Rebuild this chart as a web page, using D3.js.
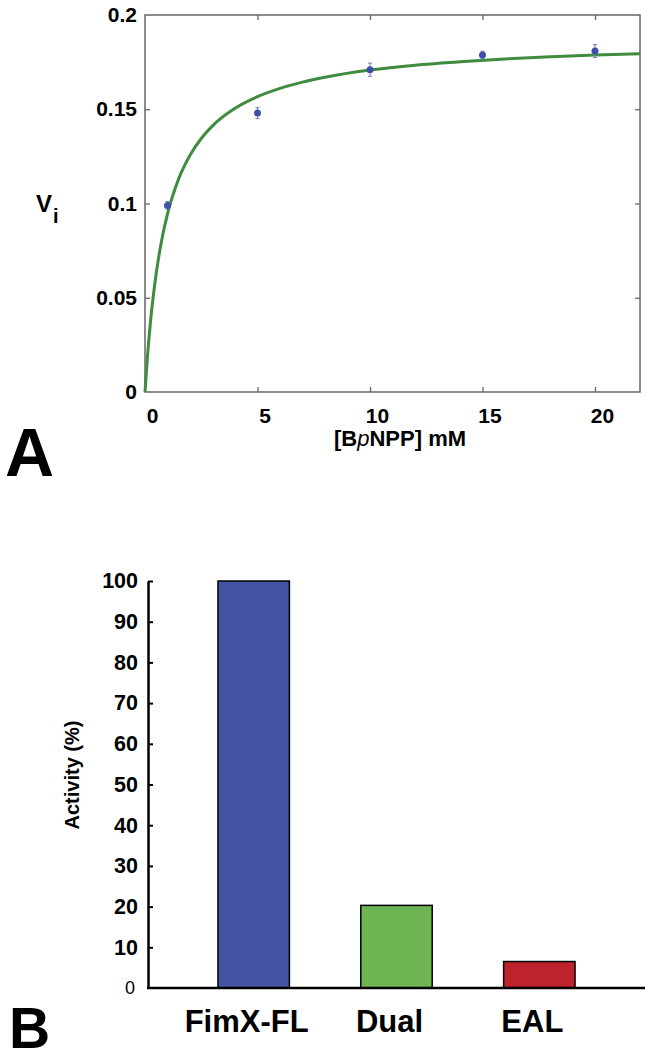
<!DOCTYPE html>
<html>
<head>
<meta charset="utf-8">
<script src="https://cdn.jsdelivr.net/npm/d3@7"></script>
<style>
  body { margin: 0; background: #fff; }
  svg text { font-family: "Liberation Sans", Arial, sans-serif; font-weight: bold; fill: #000; }
</style>
</head>
<body>
<svg id="fig" width="647" height="1059"></svg>
<script>
// panel A: substrate (mM), initial velocity, error
var subst = [1, 5, 10, 15, 20];
var vi = [0.099, 0.148, 0.171, 0.1788, 0.1809];
var viErr = [0.002, 0.003, 0.0035, 0.002, 0.0035];

// fitted curve
var curveS = [0, 0.1, 0.25, 0.5, 0.75, 1, 1.5, 2, 2.5, 3, 4, 5, 6, 7, 8, 10, 12, 14, 16, 18, 20, 22];
var curveV = [0, 0.0173, 0.038, 0.063, 0.081, 0.0945, 0.1132, 0.1256, 0.1345, 0.1412, 0.1505,
  0.1567, 0.1611, 0.1644, 0.167, 0.1708, 0.1734, 0.1752, 0.1767, 0.1778, 0.1788, 0.1795];

var xTicksA = [0, 5, 10, 15, 20];
var yTicksA = [0, 0.05, 0.1, 0.15, 0.2];

// panel B
var cats = ["FimX-FL", "Dual", "EAL"];
var activity = [100, 20.3, 6.5];
var barColors = ["#4453a2", "#6db453", "#be232b"];
var yTicksB = [0, 10, 20, 30, 40, 50, 60, 70, 80, 90, 100];

var svg = d3.select("#fig");

// ---------- A ----------
var xA = d3.scaleLinear().domain([0, 22]).range([145, 640]);
var yA = d3.scaleLinear().domain([0, 0.2]).range([392, 15]);

var gA = svg.append("g");

gA.append("rect")
  .attr("x", xA(0)).attr("y", yA(0.2))
  .attr("width", xA(22) - xA(0)).attr("height", yA(0) - yA(0.2))
  .attr("fill", "none").attr("stroke", "#666").attr("stroke-width", 1.5);

function frameAxis(g) {
  g.select(".domain").remove();
  g.selectAll(".tick line").attr("stroke", "#666").attr("stroke-width", 1.3);
}

gA.append("g")
  .attr("transform", "translate(0," + yA(0) + ")")
  .call(d3.axisBottom(xA).tickValues(xTicksA).tickSizeInner(-5).tickSizeOuter(0).tickPadding(16))
  .call(frameAxis)
  .call(function(g) {
    g.selectAll(".tick text").attr("font-size", 21).attr("dx", 7)
      .style("font-family", "Liberation Sans, Arial, sans-serif").style("font-weight", "bold");
    g.selectAll(".tick").filter(function(d) { return d === 0; }).select("line").remove();
  });

gA.append("g")
  .attr("transform", "translate(" + xA(0) + ",0)")
  .call(d3.axisLeft(yA).tickValues(yTicksA).tickSizeInner(-5).tickSizeOuter(0).tickPadding(8)
    .tickFormat(function(d) { return String(d); }))
  .call(frameAxis)
  .call(function(g) {
    g.selectAll(".tick text").attr("font-size", 21)
      .style("font-family", "Liberation Sans, Arial, sans-serif").style("font-weight", "bold");
    g.selectAll(".tick").filter(function(d) { return d === 0 || d === 0.2; }).select("line").remove();
  });

gA.append("g")
  .attr("transform", "translate(0," + yA(0.2) + ")")
  .call(d3.axisTop(xA).tickValues([5, 10, 15, 20]).tickSizeInner(-5).tickSizeOuter(0).tickFormat(""))
  .call(frameAxis);

gA.append("g")
  .attr("transform", "translate(" + xA(22) + ",0)")
  .call(d3.axisRight(yA).tickValues([0.05, 0.1, 0.15]).tickSizeInner(-5).tickSizeOuter(0).tickFormat(""))
  .call(frameAxis);

// fitted curve
var line = d3.line()
  .x(function(d, i) { return xA(curveS[i]); })
  .y(function(d) { return yA(d); })
  .curve(d3.curveMonotoneX);

gA.append("path")
  .datum(curveV)
  .attr("d", line)
  .attr("fill", "none")
  .attr("stroke", "#3f8c3f")
  .attr("stroke-width", 3);

// error bars + points
var pts = gA.selectAll("g.pt").data(subst).enter().append("g").attr("class", "pt");
pts.append("line")
  .attr("x1", function(d) { return xA(d); }).attr("x2", function(d) { return xA(d); })
  .attr("y1", function(d, i) { return yA(vi[i] - viErr[i]); })
  .attr("y2", function(d, i) { return yA(vi[i] + viErr[i]); })
  .attr("stroke", "#6f7cc4").attr("stroke-width", 1);
[-1, 1].forEach(function(s) {
  pts.append("line")
    .attr("x1", function(d) { return xA(d) - 2; }).attr("x2", function(d) { return xA(d) + 2; })
    .attr("y1", function(d, i) { return yA(vi[i] + s * viErr[i]); })
    .attr("y2", function(d, i) { return yA(vi[i] + s * viErr[i]); })
    .attr("stroke", "#6f7cc4").attr("stroke-width", 1);
});
pts.append("circle")
  .attr("cx", function(d) { return xA(d); })
  .attr("cy", function(d, i) { return yA(vi[i]); })
  .attr("r", 3.5)
  .attr("fill", "#3d4fa8");

// labels A
var vl = svg.append("text").attr("x", 36).attr("y", 212).attr("font-size", 24);
vl.append("tspan").text("V");
vl.append("tspan").attr("dx", 1).attr("dy", 11).attr("font-size", 20).text("i");

var xl = svg.append("text").attr("x", 400).attr("y", 446).attr("font-size", 22).attr("text-anchor", "middle");
xl.append("tspan").text("[B");
xl.append("tspan").attr("font-style", "italic").style("font-weight", "normal").text("p");
xl.append("tspan").text("NPP] mM");

svg.append("text").attr("x", 5).attr("y", 476).attr("font-size", 68).text("A");

// ---------- B ----------
var xB = d3.scaleBand().domain(cats).range([148, 645]).paddingInner(0.5).paddingOuter(0.49);
var yB = d3.scaleLinear().domain([0, 100]).range([988, 581]);

var gB = svg.append("g");

gB.selectAll("rect.bar").data(cats).enter().append("rect")
  .attr("class", "bar")
  .attr("x", function(d) { return xB(d); })
  .attr("width", xB.bandwidth())
  .attr("y", function(d, i) { return yB(activity[i]); })
  .attr("height", function(d, i) { return yB(0) - yB(activity[i]); })
  .attr("fill", function(d, i) { return barColors[i]; })
  .attr("stroke", "#000").attr("stroke-width", 1.5);

gB.append("g")
  .attr("transform", "translate(148,0)")
  .call(d3.axisLeft(yB).tickValues(yTicksB).tickSizeInner(-5).tickSizeOuter(0).tickPadding(10))
  .call(function(g) {
    g.select(".domain").attr("stroke", "#000").attr("stroke-width", 2.5);
    g.selectAll(".tick line").attr("stroke", "#000").attr("stroke-width", 2);
    g.selectAll(".tick text").attr("font-size", 21.5)
      .style("font-family", "Liberation Sans, Arial, sans-serif").style("font-weight", "bold");
    g.selectAll(".tick").filter(function(d) { return d === 0; }).call(function(t) {
      t.select("line").remove();
      t.select("text").attr("font-size", 18).style("font-weight", "normal").attr("x", -13);
    });
  });

gB.append("line")
  .attr("x1", 147).attr("x2", 645)
  .attr("y1", yB(0)).attr("y2", yB(0))
  .attr("stroke", "#000").attr("stroke-width", 2.5);

gB.selectAll("text.cat").data(cats).enter().append("text")
  .attr("class", "cat")
  .attr("x", function(d) { return xB(d) + xB.bandwidth() / 2 - 7; })
  .attr("y", 1032)
  .attr("text-anchor", "middle")
  .attr("font-size", 31)
  .text(function(d) { return d; });

svg.append("text")
  .attr("transform", "translate(79,775) rotate(-90)")
  .attr("text-anchor", "middle")
  .attr("font-size", 20)
  .text("Activity (%)");

svg.append("text").attr("x", 9).attr("y", 1048).attr("font-size", 57).text("B");
</script>
</body>
</html>
